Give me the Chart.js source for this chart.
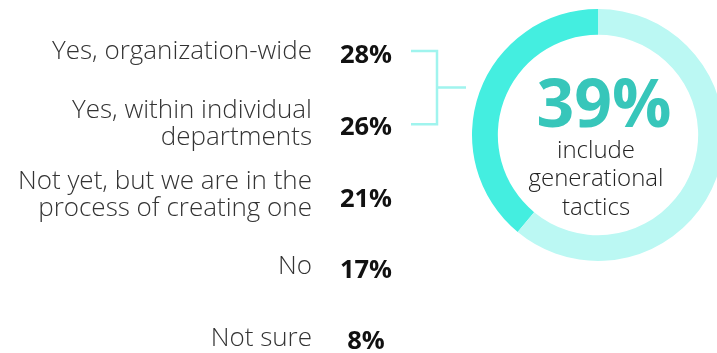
<!DOCTYPE html>
<html>
<head>
<meta charset="utf-8">
<script src="https://cdn.jsdelivr.net/npm/chart.js@4.4.1/dist/chart.umd.min.js"></script>
<style>
  html, body { margin: 0; padding: 0; background: #ffffff; overflow: hidden; width: 717px; height: 353px; }
  #list { position: absolute; left: 0; top: 0; }
  #ring { position: absolute; left: 467px; top: 4px; }
</style>
</head>
<body>
<canvas id="list" width="480" height="360"></canvas>
<canvas id="ring" width="262" height="262"></canvas>
<script>
// Survey answers and their shares (%)
const answers = [
  ["Yes, organization-wide"],
  ["Yes, within individual", "departments"],
  ["Not yet, but we are in the", "process of creating one"],
  ["No"],
  ["Not sure"]
];
const shares = [28, 26, 21, 17, 8];

// Ring: share that includes generational tactics vs. the rest
const ringLabels = ["include generational tactics", "other"];
const ringShare = [39, 61];
const ringCaption = ["include", "generational", "tactics"];

const FONT = "'Open Sans', 'Noto Sans', sans-serif";
const TEAL_DARK = "#44eee0";
const TEAL_LIGHT = "#bbf8f3";
const TEAL_TEXT = "#37c6ba";
const BRACKET = "#a0f4ee";

// Percent values beside each answer + bracket grouping the two "Yes" answers
const listDecor = {
  id: "listDecor",
  afterDatasetsDraw(chart) {
    const ctx = chart.ctx;
    const y = chart.scales.y;
    ctx.save();
    ctx.fillStyle = "#111111";
    ctx.font = "bold 25.5px " + FONT;
    ctx.textAlign = "center";
    ctx.textBaseline = "middle";
    shares.forEach((v, i) => {
      const extra = answers[i].length > 1 ? 4.5 : 3.5;
      ctx.fillText(v + "%", 366, y.getPixelForValue(i) + extra);
    });

    const y0 = y.getPixelForValue(0) - 1;
    const y1 = y.getPixelForValue(1) + 0.5;
    const mid = (y0 + y1) / 2;
    ctx.strokeStyle = BRACKET;
    ctx.lineWidth = 2.5;
    ctx.beginPath();
    ctx.moveTo(411, y0); ctx.lineTo(437, y0); ctx.lineTo(437, y1); ctx.lineTo(411, y1);
    ctx.moveTo(437, mid); ctx.lineTo(466, mid);
    ctx.stroke();
    ctx.restore();
  }
};

new Chart(document.getElementById("list"), {
  type: "bar",
  data: {
    labels: answers,
    datasets: [{ data: shares, backgroundColor: "rgba(0,0,0,0)", borderWidth: 0 }]
  },
  options: {
    indexAxis: "y",
    responsive: false,
    animation: false,
    layout: { padding: { top: 52, bottom: 15, left: 0, right: 0 } },
    plugins: { legend: { display: false }, tooltip: { enabled: false } },
    scales: {
      x: { display: false, min: 0, max: 100 },
      y: {
        offset: false,
        grid: { display: false, drawTicks: false },
        border: { display: false },
        afterFit(scale) { scale.width = 320; },
        ticks: {
          padding: 8,
          color: "#333333",
          font: { family: FONT, size: 26, weight: 300, lineHeight: "27px" }
        }
      }
    }
  },
  plugins: [listDecor]
});

// Caption inside the ring
const ringCenter = {
  id: "ringCenter",
  afterDraw(chart) {
    const arc = chart.getDatasetMeta(0).data[0];
    const cx = arc.x, cy = arc.y;
    const ctx = chart.ctx;
    ctx.save();
    ctx.textAlign = "center";
    ctx.textBaseline = "middle";
    ctx.fillStyle = TEAL_TEXT;
    ctx.font = "bold 66px " + FONT;
    ctx.fillText(ringShare[0] + "%", cx + 6, cy - 27);
    ctx.fillStyle = "#222222";
    ctx.font = "300 24px " + FONT;
    ringCaption.forEach((t, i) => ctx.fillText(t, cx - 2, cy + 16 + i * 28.5));
    ctx.restore();
  }
};

new Chart(document.getElementById("ring"), {
  type: "doughnut",
  data: {
    labels: ringLabels,
    datasets: [{
      data: ringShare,
      backgroundColor: [TEAL_DARK, TEAL_LIGHT],
      borderWidth: 0
    }]
  },
  options: {
    responsive: false,
    animation: false,
    cutout: "79.5%",
    rotation: -ringShare[0] / 100 * 360,
    layout: { padding: 5 },
    plugins: { legend: { display: false }, tooltip: { enabled: false } }
  },
  plugins: [ringCenter]
});
</script>
</body>
</html>
